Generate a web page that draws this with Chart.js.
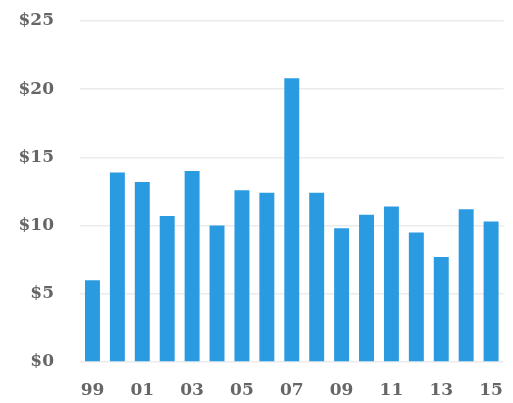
<!DOCTYPE html>
<html>
<head>
<meta charset="utf-8">
<script src="https://cdn.jsdelivr.net/npm/chart.js@4/dist/chart.umd.min.js"></script>
<style>
  html, body { margin: 0; padding: 0; background: #fff; }
  #wrap { width: 513px; height: 403px; }
</style>
</head>
<body>
<div id="wrap"><canvas id="c" width="513" height="403"></canvas></div>
<script>
// years 1999-2015, labels shown every other year
const years = ['99', '00', '01', '02', '03', '04', '05', '06', '07', '08', '09', '10', '11', '12', '13', '14', '15'];
const values = [6.0, 13.9, 13.2, 10.7, 14.0, 10.0, 12.6, 12.4, 20.8, 12.4, 9.8, 10.8, 11.4, 9.5, 7.7, 11.2, 10.3];
const yTicks = [0, 5, 10, 15, 20, 25];

const font = { family: 'DejaVu Serif', size: 17, weight: 'bold' };

new Chart(document.getElementById('c'), {
    type: 'bar',
    data: {
        labels: years,
        datasets: [{
            data: values,
            backgroundColor: '#2a9be0',
            barPercentage: 0.6,
            categoryPercentage: 1.0
        }]
    },
    options: {
        responsive: false,
        animation: false,
        layout: { padding: { top: 21, right: 3, left: 0, bottom: 0 } },
        plugins: { legend: { display: false }, tooltip: { enabled: false } },
        scales: {
            x: {
                grid: { display: false },
                border: { display: false },
                ticks: {
                    autoSkip: false,
                    maxRotation: 0,
                    color: '#666',
                    font: font,
                    padding: 10,
                    callback: function(v, i) { return i % 2 === 0 ? years[i] : ''; }
                },
                afterFit: function(s) { s.height = 41; }
            },
            y: {
                min: 0,
                max: 25,
                afterBuildTicks: function(s) { s.ticks = yTicks.map(v => ({ value: v })); },
                // invisible tick marks keep the labels away from the plot
                grid: { color: '#ebebeb', lineWidth: 1.5, drawTicks: true, tickLength: 24, tickColor: 'rgba(0,0,0,0)' },
                border: { display: false },
                ticks: {
                    color: '#666',
                    font: font,
                    padding: 2,
                    callback: function(v) { return '$' + v; }
                },
                afterFit: function(s) { s.width = 80; }
            }
        }
    }
});
</script>
</body>
</html>
